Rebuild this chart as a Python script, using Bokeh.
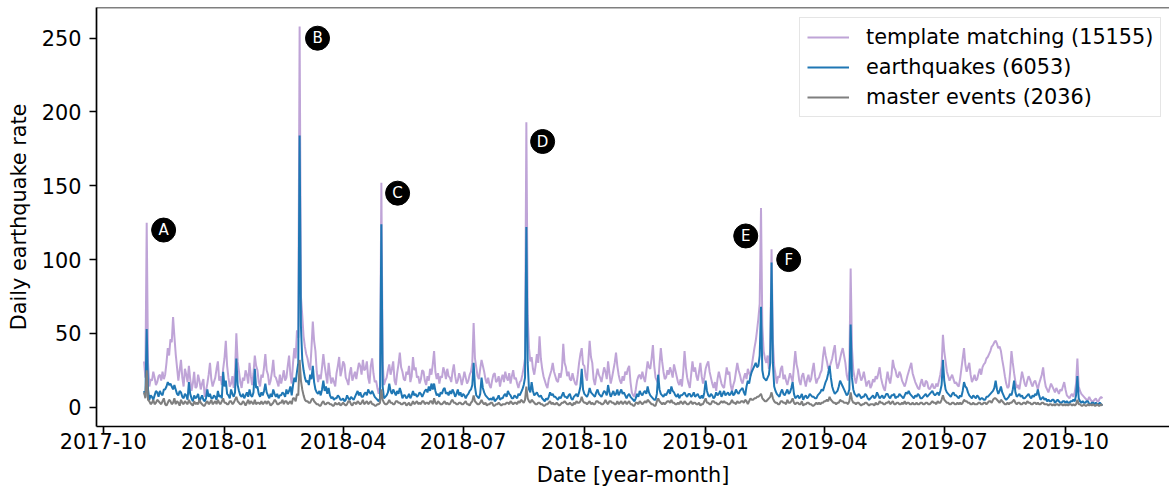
import pandas as pd
from bokeh.plotting import figure
from bokeh.models import (FixedTicker, DatetimeTickFormatter, Range1d, Legend, LegendItem,
                          ColumnDataSource, Span)
from bokeh.embed import file_html
from bokeh.resources import INLINE
from bokeh.core.properties import value

# ---------------- data: daily rates, one value per day ----------------
START_DATE = "2017-11-01"
STEP = "1D"

template_matching = [
    31, 20, 125, 30, 14, 19, 18, 24, 20, 15, 17, 21, 22, 18, 24, 19, 22, 30, 40, 35,
    46, 44, 61, 48, 36, 27, 18, 25, 32, 20, 14, 26, 22, 17, 28, 19, 11, 16, 24, 13,
    14, 22, 18, 12, 16, 19, 7, 11, 16, 22, 30, 19, 14, 17, 20, 26, 31, 18, 21, 15,
    26, 33, 45, 28, 20, 14, 16, 21, 13, 24, 50, 31, 24, 17, 13, 20, 18, 25, 22, 16,
    30, 21, 15, 23, 35, 28, 25, 17, 14, 22, 20, 27, 36, 25, 22, 15, 18, 24, 32, 21,
    20, 17, 14, 22, 16, 20, 25, 18, 20, 28, 35, 22, 16, 30, 40, 33, 52, 47, 258, 75,
    62, 48, 41, 36, 33, 28, 25, 40, 58, 45, 38, 24, 17, 22, 19, 27, 36, 28, 22, 16,
    30, 22, 16, 20, 17, 14, 23, 28, 34, 21, 25, 31, 29, 20, 18, 15, 23, 27, 18, 21,
    24, 19, 25, 30, 28, 22, 32, 25, 26, 31, 20, 16, 28, 33, 23, 17, 18, 13, 9, 14,
    152, 30, 15, 18, 20, 25, 29, 22, 26, 31, 18, 15, 23, 29, 37, 27, 24, 19, 18, 24,
    22, 28, 17, 21, 34, 25, 27, 20, 21, 16, 19, 25, 24, 18, 15, 21, 18, 26, 22, 29,
    38, 24, 19, 23, 16, 21, 20, 27, 24, 19, 26, 21, 20, 17, 24, 29, 21, 16, 18, 23,
    20, 15, 19, 24, 20, 16, 18, 22, 24, 30, 57, 33, 27, 21, 19, 26, 32, 28, 24, 19,
    16, 20, 15, 13, 18, 22, 23, 17, 18, 21, 14, 19, 22, 17, 24, 20, 18, 23, 16, 21,
    25, 19, 20, 16, 13, 17, 18, 22, 27, 33, 193, 62, 40, 31, 34, 26, 22, 28, 36, 30,
    48, 33, 26, 21, 18, 15, 13, 19, 22, 25, 30, 24, 21, 18, 17, 23, 20, 26, 43, 30,
    27, 21, 24, 19, 18, 23, 19, 16, 15, 22, 30, 36, 40, 29, 28, 21, 18, 31, 45, 34,
    30, 19, 15, 21, 26, 22, 20, 17, 22, 27, 24, 19, 31, 23, 16, 20, 25, 30, 37, 28,
    22, 18, 16, 21, 18, 24, 22, 26, 28, 17, 10, 8, 7, 12, 18, 21, 22, 19, 24, 20,
    17, 24, 31, 27, 26, 33, 42, 28, 20, 18, 16, 29, 40, 31, 24, 19, 20, 25, 22, 27,
    24, 20, 29, 25, 21, 17, 15, 19, 14, 24, 38, 27, 20, 16, 13, 22, 31, 24, 27, 21,
    18, 24, 30, 21, 16, 20, 26, 29, 31, 24, 20, 16, 13, 17, 11, 19, 24, 20, 16, 14,
    13, 20, 27, 22, 24, 15, 11, 15, 18, 24, 30, 25, 22, 18, 16, 20, 23, 19, 26, 23,
    21, 28, 34, 40, 45, 52, 60, 70, 135, 55, 38, 33, 30, 35, 26, 40, 107, 45, 28, 22,
    16, 21, 20, 26, 28, 19, 22, 18, 15, 19, 23, 20, 17, 28, 38, 29, 25, 18, 15, 21,
    23, 18, 14, 19, 22, 17, 19, 25, 30, 21, 16, 19, 20, 23, 25, 34, 41, 35, 31, 26,
    27, 30, 33, 38, 42, 31, 26, 29, 33, 37, 40, 35, 30, 22, 18, 25, 94, 40, 25, 20,
    16, 21, 26, 22, 18, 20, 24, 19, 14, 17, 18, 13, 15, 19, 17, 21, 19, 23, 27, 20,
    16, 13, 11, 18, 24, 19, 16, 22, 32, 27, 25, 21, 20, 24, 22, 18, 16, 14, 17, 21,
    24, 27, 30, 23, 20, 17, 15, 13, 12, 16, 19, 15, 14, 18, 17, 13, 12, 14, 16, 13,
    13, 16, 14, 18, 22, 28, 49, 38, 31, 24, 21, 18, 20, 22, 19, 16, 17, 15, 14, 19,
    26, 33, 40, 29, 24, 27, 30, 22, 17, 19, 22, 18, 19, 23, 26, 22, 27, 29, 30, 33,
    34, 36, 38, 41, 42, 44, 45, 43, 40, 41, 38, 32, 27, 21, 16, 13, 14, 24, 38, 30,
    23, 17, 13, 15, 12, 18, 24, 20, 16, 14, 18, 21, 19, 16, 14, 17, 18, 15, 12, 16,
    19, 22, 27, 19, 14, 12, 10, 13, 16, 14, 12, 10, 13, 11, 9, 12, 11, 14, 17, 12,
    8, 7, 6, 8, 9, 7, 10, 16, 33, 14, 11, 9, 8, 7, 6, 5, 5, 7, 5, 4,
    4, 5, 6, 4, 4, 6, 7, 6,
]

earthquakes = [
    11, 7, 53, 12, 5, 8, 7, 5, 8, 11, 10, 7, 11, 9, 8, 12, 12, 14, 17, 15,
    16, 14, 12, 15, 12, 9, 8, 11, 10, 7, 6, 9, 8, 5, 17, 9, 6, 4, 8, 6,
    7, 9, 4, 6, 8, 5, 4, 6, 12, 7, 9, 6, 6, 8, 7, 5, 11, 7, 8, 6,
    24, 14, 18, 9, 8, 6, 12, 9, 7, 10, 33, 15, 11, 8, 7, 9, 6, 8, 10, 7,
    12, 8, 7, 10, 26, 13, 14, 9, 7, 10, 8, 11, 16, 10, 8, 6, 9, 7, 12, 9,
    7, 9, 6, 8, 8, 10, 9, 7, 12, 9, 11, 14, 8, 15, 20, 17, 24, 30, 184, 55,
    32, 25, 20, 17, 18, 15, 22, 19, 28, 17, 12, 10, 9, 11, 8, 12, 18, 11, 14, 9,
    13, 8, 6, 7, 5, 6, 6, 8, 7, 5, 5, 6, 4, 5, 8, 6, 5, 7, 6, 5,
    7, 9, 11, 8, 10, 7, 7, 9, 10, 8, 12, 10, 9, 11, 9, 7, 6, 5, 4, 6,
    124, 14, 6, 7, 8, 10, 16, 11, 9, 12, 10, 8, 11, 9, 13, 10, 6, 8, 8, 6,
    7, 9, 6, 8, 11, 8, 9, 7, 8, 10, 9, 7, 9, 11, 12, 10, 14, 11, 16, 12,
    16, 11, 8, 9, 7, 10, 9, 12, 13, 9, 10, 8, 11, 9, 12, 10, 7, 9, 12, 8,
    10, 7, 9, 8, 6, 8, 9, 11, 12, 15, 30, 14, 8, 7, 6, 9, 20, 13, 10, 8,
    7, 6, 5, 6, 5, 7, 4, 5, 6, 8, 5, 6, 6, 8, 9, 7, 11, 9, 8, 6,
    6, 8, 7, 6, 9, 8, 10, 12, 15, 20, 122, 30, 12, 10, 17, 11, 8, 9, 10, 8,
    7, 8, 6, 5, 4, 6, 5, 7, 10, 8, 9, 7, 7, 6, 5, 7, 6, 8, 10, 7,
    7, 6, 8, 9, 6, 5, 7, 8, 9, 7, 10, 14, 26, 12, 9, 8, 7, 9, 13, 10,
    9, 8, 7, 10, 12, 9, 8, 7, 9, 11, 10, 8, 15, 10, 7, 9, 11, 8, 9, 12,
    8, 10, 12, 9, 10, 8, 6, 8, 9, 7, 6, 5, 4, 6, 9, 7, 11, 9, 8, 10,
    11, 9, 14, 10, 8, 7, 6, 5, 5, 9, 22, 12, 9, 8, 7, 9, 8, 10, 12, 9,
    14, 11, 10, 8, 7, 9, 6, 8, 8, 9, 10, 8, 7, 9, 9, 7, 8, 10, 7, 8,
    9, 7, 6, 8, 6, 10, 18, 11, 8, 7, 9, 8, 6, 7, 10, 8, 9, 11, 7, 9,
    11, 8, 9, 10, 8, 9, 11, 8, 9, 12, 10, 9, 11, 12, 13, 10, 8, 14, 18, 16,
    21, 24, 26, 28, 30, 27, 28, 35, 68, 25, 20, 19, 18, 20, 22, 30, 98, 30, 14, 11,
    9, 8, 7, 10, 12, 9, 8, 10, 12, 9, 10, 13, 17, 9, 6, 7, 8, 6, 7, 9,
    5, 7, 8, 6, 7, 9, 8, 7, 7, 6, 6, 8, 9, 10, 12, 11, 14, 17, 19, 23,
    28, 20, 14, 11, 9, 10, 11, 14, 18, 16, 14, 12, 10, 8, 9, 12, 56, 20, 12, 9,
    8, 7, 9, 8, 6, 7, 7, 9, 8, 6, 5, 6, 7, 8, 6, 7, 10, 8, 6, 7,
    8, 6, 7, 9, 9, 7, 6, 8, 8, 9, 6, 7, 7, 9, 8, 7, 6, 8, 10, 9,
    11, 9, 8, 7, 6, 8, 7, 9, 8, 6, 6, 7, 8, 9, 7, 8, 9, 10, 11, 9,
    8, 9, 10, 8, 11, 15, 32, 18, 12, 10, 9, 8, 7, 9, 10, 8, 8, 7, 6, 8,
    7, 11, 17, 14, 13, 10, 8, 7, 6, 8, 7, 6, 8, 7, 5, 6, 6, 5, 5, 7,
    7, 8, 9, 10, 11, 13, 18, 12, 9, 11, 14, 10, 8, 6, 5, 6, 7, 9, 8, 12,
    18, 10, 7, 8, 9, 7, 8, 6, 6, 7, 8, 9, 7, 6, 8, 7, 9, 8, 12, 8,
    5, 6, 7, 5, 6, 4, 5, 4, 4, 5, 5, 3, 4, 5, 4, 3, 3, 4, 4, 3,
    4, 3, 3, 4, 4, 5, 4, 8, 21, 6, 4, 3, 4, 3, 3, 4, 4, 2, 2, 3,
    3, 2, 3, 2, 2, 3, 2, 1,
]

master_events = [
    10, 6, 25, 5, 4, 2, 3, 5, 2, 3, 5, 4, 3, 2, 4, 6, 2, 1, 3, 5,
    4, 2, 3, 6, 2, 4, 3, 1, 5, 3, 2, 4, 3, 2, 5, 3, 2, 1, 4, 2,
    3, 2, 5, 3, 2, 1, 1, 3, 4, 2, 3, 5, 2, 3, 4, 2, 5, 3, 2, 4,
    6, 3, 3, 2, 2, 4, 4, 2, 3, 5, 7, 4, 3, 2, 2, 4, 3, 1, 3, 5,
    2, 4, 3, 2, 5, 2, 3, 3, 2, 4, 2, 3, 4, 2, 4, 3, 1, 2, 3, 5,
    4, 2, 2, 3, 3, 5, 2, 4, 4, 2, 3, 4, 2, 6, 6, 4, 9, 8, 32, 18,
    12, 8, 5, 4, 4, 3, 3, 5, 6, 4, 3, 2, 2, 1, 1, 3, 4, 2, 2, 3,
    3, 2, 2, 1, 1, 3, 2, 2, 3, 1, 2, 3, 2, 1, 2, 4, 4, 2, 1, 3,
    3, 2, 4, 3, 2, 3, 5, 2, 3, 4, 2, 3, 4, 2, 2, 1, 1, 2, 2, 3,
    12, 5, 3, 2, 2, 3, 5, 3, 3, 2, 2, 4, 4, 3, 3, 2, 2, 3, 3, 1,
    2, 3, 1, 2, 4, 2, 3, 4, 2, 3, 2, 4, 4, 2, 3, 3, 2, 4, 4, 2,
    6, 3, 2, 4, 3, 2, 2, 3, 4, 2, 3, 2, 2, 4, 5, 3, 3, 2, 2, 3,
    3, 2, 2, 3, 4, 2, 2, 1, 3, 4, 8, 4, 3, 2, 2, 3, 5, 3, 2, 3,
    1, 2, 2, 3, 3, 1, 1, 2, 2, 3, 2, 1, 2, 2, 2, 3, 3, 2, 4, 3,
    2, 3, 3, 2, 4, 3, 5, 4, 3, 5, 14, 6, 4, 3, 5, 4, 3, 2, 2, 3,
    3, 2, 2, 1, 1, 2, 2, 3, 4, 2, 3, 2, 2, 3, 2, 1, 2, 3, 3, 4,
    3, 2, 2, 3, 2, 1, 3, 2, 4, 3, 3, 4, 7, 4, 3, 3, 2, 3, 4, 2,
    3, 2, 2, 4, 4, 3, 3, 2, 2, 3, 5, 3, 2, 4, 4, 3, 3, 2, 2, 4,
    2, 3, 4, 2, 3, 4, 2, 3, 4, 2, 2, 1, 1, 3, 3, 2, 4, 3, 2, 3,
    4, 3, 5, 4, 3, 2, 2, 1, 1, 4, 6, 4, 3, 2, 3, 2, 3, 4, 4, 3,
    5, 3, 3, 2, 2, 3, 2, 4, 3, 2, 4, 3, 2, 2, 3, 4, 2, 3, 3, 2,
    2, 3, 1, 2, 2, 4, 6, 3, 3, 2, 2, 4, 4, 3, 3, 2, 2, 3, 4, 3,
    4, 3, 3, 2, 2, 3, 5, 3, 3, 2, 4, 3, 3, 4, 4, 3, 5, 4, 2, 4,
    6, 5, 5, 6, 6, 7, 7, 8, 9, 6, 5, 4, 4, 5, 6, 7, 10, 6, 4, 3,
    3, 2, 2, 4, 4, 3, 3, 2, 5, 3, 3, 4, 6, 3, 2, 3, 3, 2, 2, 4,
    1, 2, 2, 3, 3, 2, 2, 1, 1, 2, 3, 2, 3, 2, 3, 3, 4, 4, 5, 4,
    7, 5, 4, 3, 3, 2, 3, 3, 5, 4, 4, 3, 3, 3, 2, 4, 10, 5, 3, 3,
    2, 3, 3, 2, 1, 2, 2, 3, 3, 2, 1, 2, 2, 2, 1, 3, 2, 2, 4, 3,
    3, 2, 2, 3, 3, 4, 2, 3, 4, 2, 2, 3, 3, 2, 2, 3, 2, 4, 2, 3,
    3, 2, 2, 3, 2, 2, 3, 2, 2, 3, 3, 2, 2, 3, 3, 2, 2, 3, 4, 3,
    3, 2, 4, 3, 3, 5, 8, 5, 4, 3, 3, 2, 2, 3, 3, 2, 2, 3, 2, 3,
    2, 3, 5, 4, 4, 3, 3, 2, 2, 3, 2, 2, 2, 3, 3, 2, 2, 3, 3, 2,
    3, 4, 4, 3, 5, 6, 6, 5, 4, 3, 5, 4, 3, 2, 2, 3, 2, 3, 3, 4,
    5, 3, 2, 3, 3, 2, 2, 3, 3, 2, 4, 3, 3, 2, 2, 3, 3, 2, 3, 2,
    2, 3, 3, 2, 2, 2, 1, 2, 2, 1, 2, 1, 2, 2, 1, 2, 2, 1, 2, 1,
    2, 1, 2, 2, 1, 2, 1, 2, 5, 2, 2, 1, 1, 2, 1, 1, 2, 1, 2, 1,
    2, 1, 1, 2, 1, 1, 2, 1,
]

legend_labels = ["template matching (15155)", "earthquakes (6053)", "master events (2036)"]
series_colors = ["#9467bd", "#1f77b4", "#7f7f7f"]

x_tick_dates = ["2017-10-01", "2018-01-01", "2018-04-01", "2018-07-01", "2018-10-01",
                "2019-01-01", "2019-04-01", "2019-07-01", "2019-10-01"]
y_ticks = [0, 50, 100, 150, 200, 250]

event_labels = ["A", "B", "C", "D", "E", "F"]
event_dates = ["2017-11-15 20:00", "2018-03-12 14:00", "2018-05-12 08:00",
               "2018-08-30 08:00", "2019-01-31 10:00", "2019-03-05 00:00"]
event_values = [120, 250, 145, 180, 116, 100]

X_START, X_END = "2017-09-25 22:00", "2019-12-18 21:00"
Y_START, Y_END = -13.1, 270.8

FONT = "DejaVu Sans"
FS = "20.8px"


def to_ms(ts):
    return (pd.Timestamp(ts) - pd.Timestamp("1970-01-01")) / pd.Timedelta("1ms")


p = figure(width=1169, height=491, output_backend="svg", toolbar_location=None,
           x_axis_type="datetime",
           x_range=Range1d(to_ms(X_START), to_ms(X_END)),
           y_range=Range1d(Y_START, Y_END),
           min_border_left=96, min_border_right=0, min_border_top=7, min_border_bottom=65)

p.background_fill_color = "white"
p.border_fill_color = "white"
p.outline_line_color = None
p.xgrid.visible = False
p.ygrid.visible = False

renderers = []
series = [template_matching, earthquakes, master_events]
for vals, col, alpha in zip(series, series_colors, [0.6, 1.0, 1.0]):
    dates = pd.date_range(START_DATE, periods=len(vals), freq=STEP)
    src = ColumnDataSource(dict(x=dates, y=vals))
    r = p.line("x", "y", source=src, line_color=col, line_width=2.0, line_alpha=alpha)
    renderers.append(r)

# top spine
p.add_layout(Span(location=Y_END, dimension="width", line_color="black", line_width=1.7))

# event markers
ev_src = ColumnDataSource(dict(x=pd.to_datetime(event_dates), y=event_values, t=event_labels))
p.scatter("x", "y", source=ev_src, size=24, fill_color="black", line_color="black", marker="circle")
p.text("x", "y", text="t", source=ev_src, text_color="white", text_align="center",
       text_baseline="middle", text_font=value(FONT), text_font_size="15px")

# axes
p.xaxis.ticker = FixedTicker(ticks=[to_ms(d) for d in x_tick_dates])
fmt = "%Y-%m"
p.xaxis.formatter = DatetimeTickFormatter(years=fmt, months=fmt, days=fmt, hours=fmt,
                                          hourmin=fmt, minutes=fmt, minsec=fmt,
                                          seconds=fmt, milliseconds=fmt, microseconds=fmt)
p.yaxis.ticker = FixedTicker(ticks=y_ticks)

p.xaxis.axis_label = "Date [year-month]"
p.yaxis.axis_label = "Daily earthquake rate"
for ax in [p.xaxis[0], p.yaxis[0]]:
    ax.axis_label_text_font = FONT
    ax.axis_label_text_font_size = FS
    ax.axis_label_text_font_style = "normal"
    ax.axis_label_text_color = "black"
    ax.major_label_text_font = FONT
    ax.major_label_text_font_size = FS
    ax.major_label_text_color = "black"
    ax.axis_line_color = "black"
    ax.axis_line_width = 1.7
    ax.major_tick_line_color = "black"
    ax.major_tick_line_width = 1.7
    ax.major_tick_out = 7
    ax.major_tick_in = 0
    ax.minor_tick_out = 0
    ax.minor_tick_in = 0
p.xaxis.major_label_standoff = -1
p.xaxis.axis_label_standoff = 11
p.yaxis.major_label_standoff = 8
p.yaxis.axis_label_standoff = 8

legend = Legend(items=[LegendItem(label=lab, renderers=[r]) for lab, r in zip(legend_labels, renderers)],
                location=(703, 309))
legend.label_text_font = FONT
legend.label_text_font_size = FS
legend.label_text_color = "black"
legend.glyph_width = 42
legend.glyph_height = 20
legend.label_height = 20
legend.label_standoff = 17
legend.padding = 7
legend.spacing = 6
legend.margin = 0
legend.border_line_color = "#cccccc"
legend.border_line_width = 1.5
legend.background_fill_alpha = 0.8
p.add_layout(legend)

open("out.html", "w").write(file_html(p, INLINE))
